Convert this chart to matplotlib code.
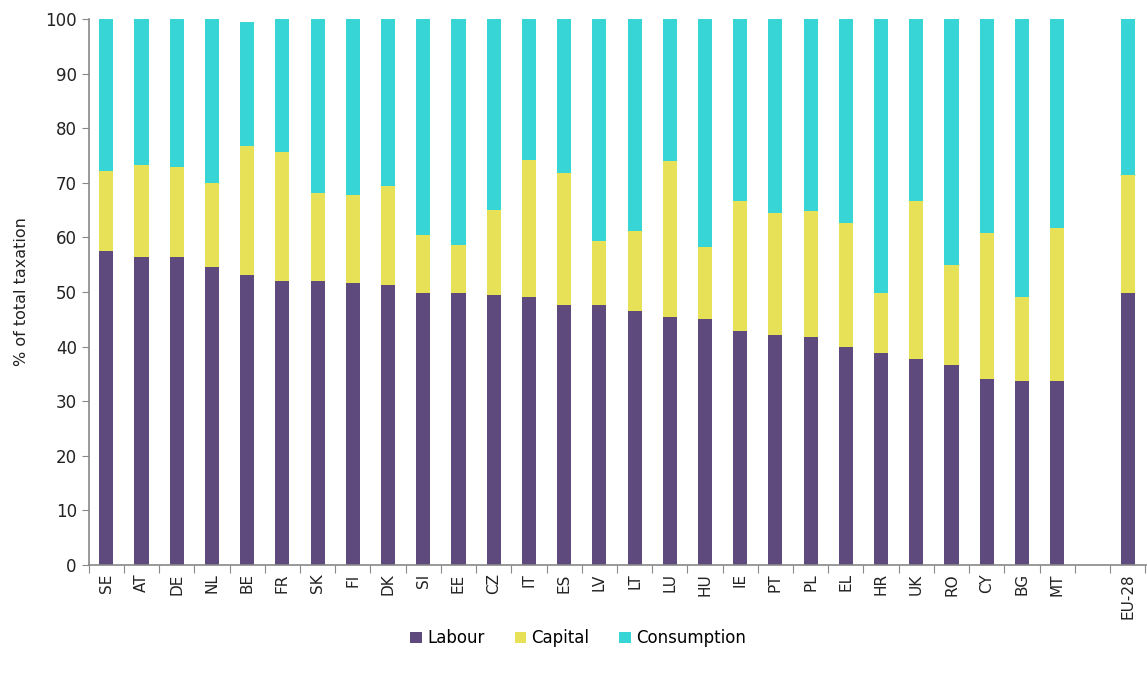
import matplotlib.pyplot as plt
import numpy as np

countries = ["SE", "AT", "DE", "NL", "BE", "FR", "SK", "FI", "DK", "SI", "EE", "CZ", "IT", "ES",
             "LV", "LT", "LU", "HU", "IE", "PT", "PL", "EL", "HR", "UK", "RO", "CY", "BG", "MT",
             "", "EU-28"]

labour = [57.5, 56.4, 56.4, 54.5, 53.1, 52.0, 52.0, 51.6, 51.3, 49.8, 49.8, 49.5, 49.1, 47.6,
          47.6, 46.5, 45.4, 45.1, 42.9, 42.1, 41.8, 39.9, 38.8, 37.8, 36.7, 34.1, 33.7, 33.7,
          0, 49.8]
# cumulative tops, converted to shares below
capital_top = [72.1, 73.2, 72.8, 69.9, 76.8, 75.7, 68.1, 67.7, 69.5, 60.4, 58.6, 65.1, 74.2, 71.7,
               59.3, 61.1, 73.9, 58.2, 66.6, 64.4, 64.8, 62.6, 49.8, 66.6, 54.9, 60.8, 49.0, 61.8,
               0, 71.4]
total = [100, 100, 100, 100, 99.5, 100, 100, 100, 100, 100, 100, 100, 100, 100,
         100, 100, 100, 100, 100, 100, 100, 100, 100, 100, 100, 100, 100, 100,
         0, 100]

labour = np.array(labour)
capital = np.array(capital_top) - labour
consumption = np.array(total) - np.array(capital_top)

c_lab = "#5E4A7D"
c_cap = "#E6E157"
c_con = "#37D5D6"

plt.rcParams['font.family'] = ['DejaVu Sans']

fig = plt.figure(figsize=(11.47, 6.77), dpi=100)
ax = fig.add_axes([0.0773, 0.1654, 0.9227, 0.8066])

x = np.arange(len(countries))
w = 0.4
ax.bar(x, labour, w, color=c_lab, label="Labour")
ax.bar(x, capital, w, bottom=labour, color=c_cap, label="Capital")
ax.bar(x, consumption, w, bottom=labour + capital, color=c_con, label="Consumption")

ax.set_xlim(-0.45, len(countries) - 0.45)
ax.set_ylim(0, 100)
ax.set_yticks(range(0, 101, 10))
ax.set_xticks(np.arange(len(countries) + 1) - 0.5, minor=False)
ax.set_xticklabels([])
ax.set_xticks(x, minor=True)
ax.set_xticklabels(countries, minor=True, rotation=90, fontsize=11, color="#222222")
ax.tick_params(axis='x', which='minor', length=0, pad=6)
ax.tick_params(axis='x', which='major', length=6, color="#888888")
ax.tick_params(axis='y', length=5, color="#888888", labelsize=12, labelcolor="#222222")

for s in ["top", "right"]:
    ax.spines[s].set_visible(False)
for s in ["left", "bottom"]:
    ax.spines[s].set_color("#888888")
    ax.spines[s].set_linewidth(1.2)

ax.set_ylabel("% of total taxation", fontsize=11.5, color="#222222", labelpad=12)

fig.legend(loc="center", bbox_to_anchor=(0.504, 0.057), ncol=3, frameon=False,
           fontsize=12, handlelength=0.7, handleheight=0.7, handletextpad=0.3,
           columnspacing=1.8)

fig.savefig("out.png", dpi=100)
